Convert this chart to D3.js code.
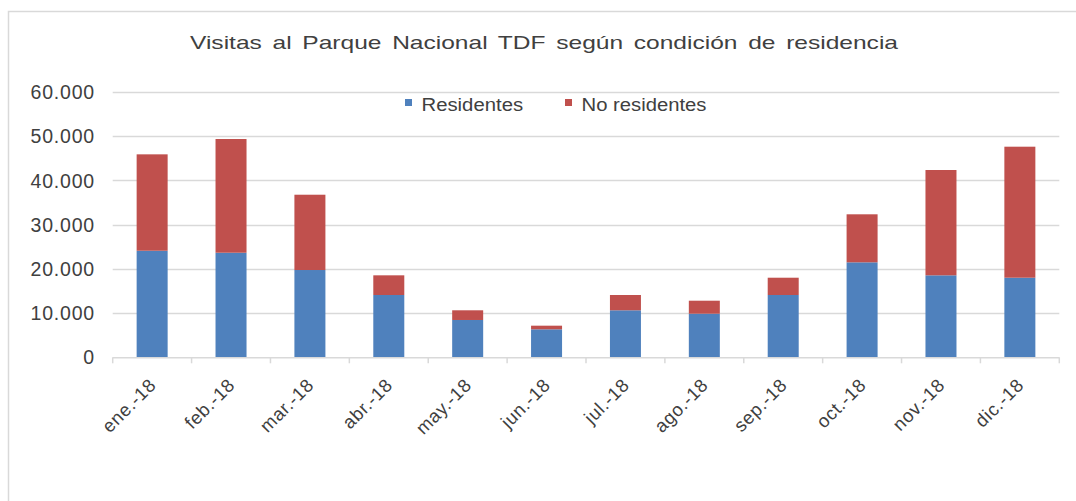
<!DOCTYPE html>
<html>
<head>
<meta charset="utf-8">
<script src="https://cdn.jsdelivr.net/npm/d3@7"></script>
<style>
  html, body { margin: 0; padding: 0; background: #fff; }
  svg { display: block; font-family: "Liberation Sans", Arial, sans-serif; }
</style>
</head>
<body>
<svg id="chart" width="1076" height="501"></svg>
<script>
const title = "Visitas al Parque Nacional TDF según condición de residencia";
const months = ["ene.-18","feb.-18","mar.-18","abr.-18","may.-18","jun.-18","jul.-18","ago.-18","sep.-18","oct.-18","nov.-18","dic.-18"];
const residentes   = [24100, 23650, 19740, 14090, 8440, 6330, 10630, 9860, 14090, 21480, 18540, 18000];
const noResidentes = [21800, 25720, 17030, 4450, 2190, 820, 3460, 2940, 3910, 10860, 23820, 29630];
const seriesNames = ["Residentes", "No residentes"];
const seriesColors = ["#4F81BD", "#C0504D"];
const yTicks = [0, 10000, 20000, 30000, 40000, 50000, 60000];

const svg = d3.select("#chart");
const W = 1076, H = 501;
const plot = { left: 112.7, right: 1059.3, top: 92, bottom: 357.3 };
const textColor = "#404040";
const gridColor = "#d9d9d9";

// outer frame (only top and left edges visible)
svg.append("rect")
  .attr("x", 8.5).attr("y", 11.5)
  .attr("width", W + 20).attr("height", H + 20)
  .attr("fill", "#fff").attr("stroke", "#d9d9d9").attr("stroke-width", 1.5);

const x = d3.scaleBand().domain(months).range([plot.left, plot.right]).paddingInner(0.607).paddingOuter(0.3035);
const y = d3.scaleLinear().domain([0, 60000]).range([plot.bottom, plot.top]);

const fmt = v => v === 0 ? "0" : d3.format(",")(v).replace(/,/g, ".");

// gridlines
svg.append("g").selectAll("line").data(yTicks.filter(d => d > 0)).join("line")
  .attr("x1", plot.left).attr("x2", plot.right)
  .attr("y1", d => Math.round(y(d)) + 0.5).attr("y2", d => Math.round(y(d)) + 0.5)
  .attr("stroke", gridColor).attr("stroke-width", 1.3);

// y axis labels
const yAxis = d3.axisLeft(y).tickValues(yTicks).tickFormat(fmt).tickSize(0).tickPadding(0);
const gy = svg.append("g").attr("transform", `translate(95,0)`).call(yAxis);
gy.select(".domain").remove();
gy.selectAll("text")
  .attr("fill", textColor)
  .style("font-size", "19.5px")
  .style("letter-spacing", "0.8px")
  .attr("dy", "0.34em");

// stacked bars
const data = months.map((m, i) => ({ month: m, Residentes: residentes[i], "No residentes": noResidentes[i] }));
const stack = d3.stack().keys(seriesNames)(data);
svg.append("g").selectAll("g").data(stack).join("g")
  .attr("fill", (d, i) => seriesColors[i])
  .selectAll("rect").data(d => d).join("rect")
  .attr("x", d => x(d.data.month))
  .attr("width", x.bandwidth())
  .attr("y", d => y(d[1]))
  .attr("height", d => y(d[0]) - y(d[1]));

// x axis
const xAxis = d3.axisBottom(x).tickSize(0).tickPadding(0);
const gx = svg.append("g").attr("transform", `translate(0,${plot.bottom})`).call(xAxis);
gx.select(".domain").remove();
gx.append("line").attr("x1", plot.left).attr("x2", plot.right).attr("y1", 0.5).attr("y2", 0.5)
  .attr("stroke", gridColor).attr("stroke-width", 1.5);
const step = x.step();
gx.selectAll(".sep").data(d3.range(months.length + 1)).join("line")
  .attr("class", "sep")
  .attr("x1", i => plot.left + i * step).attr("x2", i => plot.left + i * step)
  .attr("y1", 0).attr("y2", 6)
  .attr("stroke", gridColor).attr("stroke-width", 1.5);
gx.selectAll(".tick text")
  .attr("fill", textColor)
  .style("font-size", "18.5px")
  .style("letter-spacing", "0.6px")
  .attr("text-anchor", "end")
  .attr("dy", 0)
  .attr("transform", "translate(5,29) rotate(-45)");

// title
svg.append("text")
  .attr("x", 544).attr("y", 49)
  .attr("text-anchor", "middle")
  .attr("fill", textColor)
  .style("font-size", "19px")
  .style("word-spacing", "3px")
  .attr("textLength", 708).attr("lengthAdjust", "spacingAndGlyphs")
  .text(title);

// legend
const legend = svg.append("g");
const legX = [405, 565];
const legW = [101.6, 125];
seriesNames.forEach((name, i) => {
  legend.append("rect").attr("x", legX[i]).attr("y", 99).attr("width", 7).attr("height", 7).attr("fill", seriesColors[i]);
  legend.append("text").attr("x", legX[i] + 16.5).attr("y", 110.5)
    .attr("fill", textColor).style("font-size", "17.5px")
    .attr("textLength", legW[i]).attr("lengthAdjust", "spacingAndGlyphs")
    .text(name);
});
</script>
</body>
</html>
